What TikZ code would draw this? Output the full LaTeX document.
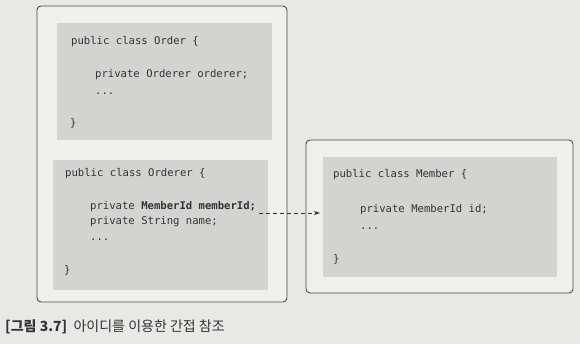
\documentclass[tikz,border=0pt]{standalone}
\usepackage{fontspec}
\setmonofont{DejaVu Sans Mono}
\newfontfamily\krfont{Noto Sans CJK KR}
\usetikzlibrary{arrows.meta}
\definecolor{pagebg}{HTML}{E8E8E6}
\definecolor{panelbg}{HTML}{EFEFED}
\definecolor{codebg}{HTML}{D3D3D1}
\definecolor{ink}{HTML}{333333}
\definecolor{frame}{HTML}{4A4A4A}
\tikzset{
  panel/.style={draw=frame, line width=0.9pt, fill=panelbg, rounded corners=4pt},
  codebox/.style={fill=codebg, draw=none},
  code/.style={anchor=base west, inner sep=0pt, text=ink, font=\ttfamily\fontsize{10.6}{12}\selectfont},
  ref/.style={draw=ink, line width=0.7pt, dash pattern=on 4pt off 3pt, -{Stealth[length=6pt,width=4pt]}},
  caption/.style={anchor=base west, inner sep=0pt, text=ink, font=\krfont\fontsize{14}{16}\selectfont}
}
\begin{document}
\begin{tikzpicture}[x=1pt,y=-1pt]
  \fill[pagebg] (0,0) rectangle (580,344);
  \useasboundingbox (0,0) rectangle (580,344);

  % aggregate on the left: Order and Orderer
  \draw[panel] (37,6) rectangle (287,302);
  \fill[codebox] (57,23) rectangle (272,140);
  \node[code] (o1) at (71,45) {public class Order \{};
  \node[code] (o2) at (95,78) {private Orderer orderer;};
  \node[code] (o3) at (95,95) {...};
  \node[code] (o4) at (70,127) {\}};

  \fill[codebox] (53,160) rectangle (268,290);
  \node[code] (r1) at (65,177) {public class Orderer \{};
  \node[code] (r2) at (90,210) {private \textbf{MemberId memberId;}};
  \node[code] (r3) at (90,225) {private String name;};
  \node[code] (r4) at (90,241) {...};
  \node[code] (r5) at (64,273) {\}};

  % aggregate on the right: Member
  \draw[panel] (306,140) rectangle (573,293);
  \fill[codebox] (323,157) rectangle (557,277);
  \node[code] (m1) at (333,178) {public class Member \{};
  \node[code] (m2) at (360,213) {private MemberId id;};
  \node[code] (m3) at (360,230) {...};
  \node[code] (m4) at (333,263) {\}};

  % indirect reference by identifier
  \coordinate (src) at ([xshift=3pt,yshift=-3pt]r2.base east);
  \coordinate (dst) at ([xshift=-40pt]m2.base west |- src);
  \draw[ref] (src) -- (dst);

  \node[caption] (cap) at (5,331) {\textbf{[그림 3.7]}\ \ 아이디를 이용한 간접 참조};
\end{tikzpicture}
\end{document}
